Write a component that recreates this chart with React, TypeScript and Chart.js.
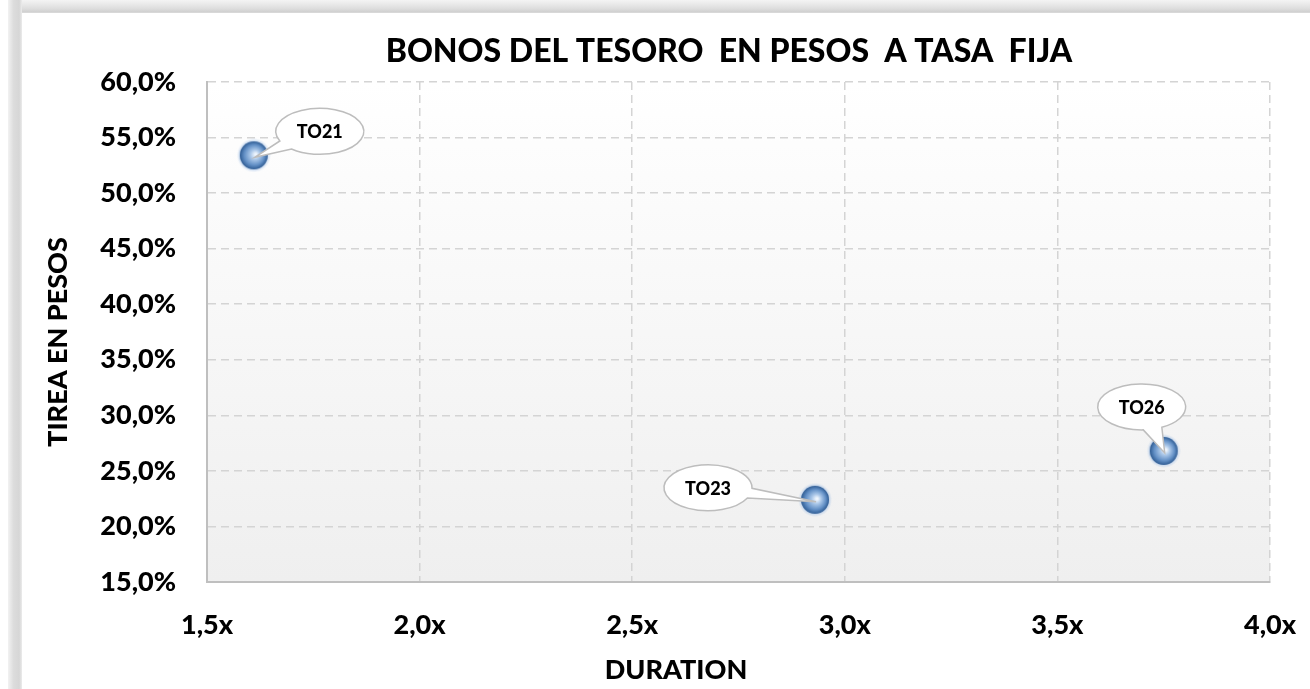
import { useEffect, useRef } from 'react';
import { Chart, registerables } from 'chart.js';

Chart.register(...registerables);

const bondLabels = ['TO21', 'TO23', 'TO26'];
const durationValues = [1.61, 2.93, 3.75];
const tireaValues = [53.4, 22.4, 26.8];
const xTickValues = [1.5, 2.0, 2.5, 3.0, 3.5, 4.0];
const yTickValues = [15, 20, 25, 30, 35, 40, 45, 50, 55, 60];

const chartTitle = 'BONOS DEL TESORO  EN PESOS  A TASA  FIJA';
const xTitle = 'DURATION';
const yTitle = 'TIREA EN PESOS';

const FONT = 'Lato, "Open Sans", "DejaVu Sans", sans-serif';
const WEIGHT = '900';

// callout bubble placement relative to each point (layout only)
const calloutOffsets = [
  { dx: 66, dy: -24 },
  { dx: -107, dy: -12 },
  { dx: -22, dy: -44 },
];

function makeSphere(r: number): HTMLCanvasElement {
  const size = r * 2 + 6;
  const c = document.createElement('canvas');
  c.width = size;
  c.height = size;
  const g = c.getContext('2d')!;
  const cx = size / 2;
  const cy = size / 2;
  const glow = g.createRadialGradient(cx, cy, r - 1, cx, cy, r + 3);
  glow.addColorStop(0, 'rgba(150,185,230,0.6)');
  glow.addColorStop(1, 'rgba(150,185,230,0)');
  g.fillStyle = glow;
  g.beginPath();
  g.arc(cx, cy, r + 3, 0, Math.PI * 2);
  g.fill();
  const grad = g.createRadialGradient(cx + 2, cy - 1, 1, cx, cy, r);
  grad.addColorStop(0, '#eef5fd');
  grad.addColorStop(0.3, '#a9c6e8');
  grad.addColorStop(0.7, '#6390c6');
  grad.addColorStop(1, '#2f5c93');
  g.fillStyle = grad;
  g.beginPath();
  g.arc(cx, cy, r, 0, Math.PI * 2);
  g.fill();
  return c;
}

const fmtNum = (v: number) => v.toFixed(1).replace('.', ',');

export default function App() {
  const ref = useRef<HTMLCanvasElement | null>(null);

  useEffect(() => {
    if (!ref.current) return;
    const sphere = makeSphere(14);

    const backgroundPlugin = {
      id: 'bgFrame',
      beforeDraw(chart: any) {
        const { ctx, width, height, chartArea } = chart;
        ctx.save();
        ctx.fillStyle = '#ffffff';
        ctx.fillRect(0, 0, width, height);
        const tg = ctx.createLinearGradient(0, 0, 0, 14);
        tg.addColorStop(0, '#f4f4f4');
        tg.addColorStop(0.6, '#dedede');
        tg.addColorStop(0.85, '#d0d0d0');
        tg.addColorStop(1, '#ececec');
        ctx.fillStyle = tg;
        ctx.fillRect(8, 0, width - 8, 13);
        const lg = ctx.createLinearGradient(8, 0, 22, 0);
        lg.addColorStop(0, '#f2f2f2');
        lg.addColorStop(0.4, '#dcdcdc');
        lg.addColorStop(0.8, '#d6d6d6');
        lg.addColorStop(1, '#ebebeb');
        ctx.fillStyle = lg;
        ctx.fillRect(8, 0, 14, height);
        const pg = ctx.createLinearGradient(0, chartArea.top, 0, chartArea.bottom);
        pg.addColorStop(0, '#ffffff');
        pg.addColorStop(1, '#efefef');
        ctx.fillStyle = pg;
        ctx.fillRect(chartArea.left, chartArea.top, chartArea.right - chartArea.left, chartArea.bottom - chartArea.top);
        ctx.restore();
      },
    };

    const titlesPlugin = {
      id: 'titles',
      afterDraw(chart: any) {
        const { ctx } = chart;
        ctx.save();
        ctx.fillStyle = '#000000';
        ctx.textAlign = 'center';
        ctx.textBaseline = 'middle';
        ctx.font = `${WEIGHT} 32px ${FONT}`;
        ctx.fillText(chartTitle, 729, 52);
        ctx.font = `${WEIGHT} 27px ${FONT}`;
        ctx.fillText(xTitle, 676, 670);
        ctx.translate(58, 342);
        ctx.rotate(-Math.PI / 2);
        ctx.fillText(yTitle, 0, 0);
        ctx.restore();
      },
    };

    const calloutPlugin = {
      id: 'callouts',
      afterDatasetsDraw(chart: any) {
        const { ctx } = chart;
        const meta = chart.getDatasetMeta(0);
        meta.data.forEach((pt: any, i: number) => {
          const off = calloutOffsets[i];
          const tx = pt.x + 1;
          const ty = pt.y + 2;
          const cx = pt.x + off.dx;
          const cy = pt.y + off.dy;
          const rx = 44;
          const ry = 23;
          const theta = Math.atan2((ty - cy) / ry, (tx - cx) / rx);
          const d = 0.22;
          ctx.save();
          ctx.beginPath();
          ctx.ellipse(cx, cy, rx, ry, 0, theta + d, theta - d + Math.PI * 2);
          ctx.lineTo(tx, ty);
          ctx.closePath();
          ctx.fillStyle = '#ffffff';
          ctx.fill();
          ctx.lineWidth = 1.5;
          ctx.strokeStyle = '#bdbdbd';
          ctx.stroke();
          ctx.fillStyle = '#000000';
          ctx.font = `${WEIGHT} 18px ${FONT}`;
          ctx.textAlign = 'center';
          ctx.textBaseline = 'middle';
          ctx.fillText(bondLabels[i], cx, cy + 1);
          ctx.restore();
        });
      },
    };

    const chart = new Chart(ref.current, {
      type: 'scatter',
      data: {
        labels: bondLabels,
        datasets: [
          {
            label: 'Bonos',
            data: durationValues.map((x, i) => ({ x, y: tireaValues[i] })),
            pointStyle: sphere as any,
            pointRadius: 14,
            pointHoverRadius: 14,
          },
        ],
      },
      options: {
        animation: false,
        responsive: false,
        maintainAspectRatio: false,
        layout: { padding: { left: 22, top: 82, right: 40, bottom: 0 } },
        plugins: {
          legend: { display: false },
          tooltip: { enabled: false },
          title: { display: false },
        },
        scales: {
          x: {
            type: 'linear',
            min: 1.5,
            max: 4.0,
            afterBuildTicks: (scale: any) => {
              scale.ticks = xTickValues.map((v) => ({ value: v }));
            },
            afterFit: (scale: any) => {
              scale.height = 107;
              scale.paddingLeft = 0;
              scale.paddingRight = 0;
            },
            ticks: {
              color: '#000000',
              font: { family: FONT, size: 27, weight: WEIGHT },
              padding: 27,
              autoSkip: false,
              maxRotation: 0,
              callback: (v: any) => fmtNum(Number(v)) + 'x',
            },
            grid: { color: '#d4d4d4', lineWidth: 1.5, drawTicks: false },
            border: { display: true, color: '#bfbfbf', width: 2, dash: [8, 5] },
            title: { display: false },
          },
          y: {
            type: 'linear',
            min: 15,
            max: 60,
            afterBuildTicks: (scale: any) => {
              scale.ticks = yTickValues.map((v) => ({ value: v }));
            },
            afterFit: (scale: any) => {
              scale.width = 185;
              scale.paddingTop = 0;
              scale.paddingBottom = 0;
            },
            ticks: {
              color: '#000000',
              font: { family: FONT, size: 27, weight: WEIGHT },
              padding: 31,
              autoSkip: false,
              callback: (v: any) => fmtNum(Number(v)) + '%',
            },
            grid: { color: '#d4d4d4', lineWidth: 1.5, drawTicks: false },
            border: { display: true, color: '#bfbfbf', width: 2, dash: [8, 5] },
            title: { display: false },
          },
        },
      },
      plugins: [backgroundPlugin, calloutPlugin, titlesPlugin],
    } as any);

    return () => chart.destroy();
  }, []);

  return (
    <div style={{ position: 'fixed', left: 0, top: 0, width: 1310, height: 689, background: '#ffffff' }}>
      <canvas ref={ref} width={1310} height={689} style={{ display: 'block', width: 1310, height: 689 }} />
    </div>
  );
}
